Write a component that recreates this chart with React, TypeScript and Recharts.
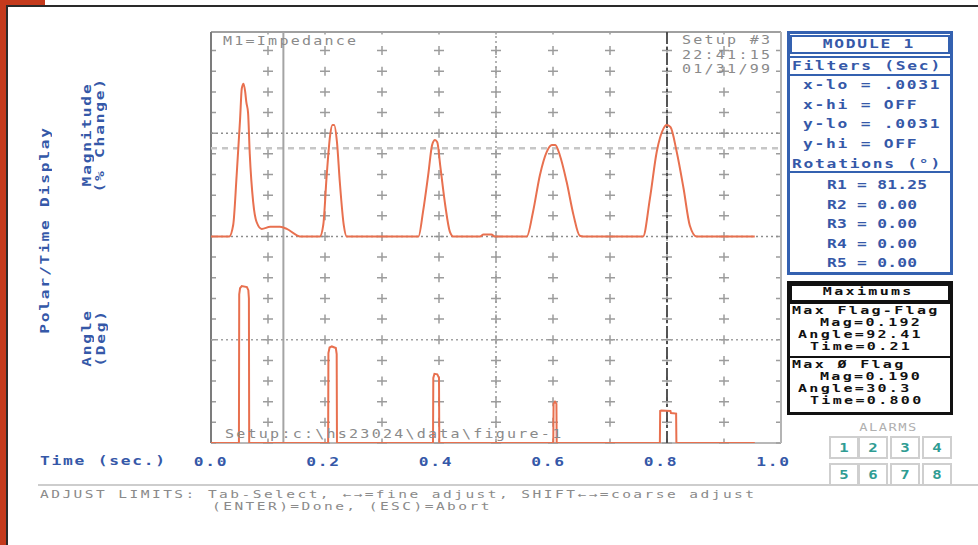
import React from "react";
import { ComposedChart, Line, XAxis, YAxis, CartesianGrid, ReferenceLine } from "recharts";

// ---------- data (time in seconds) ----------
const magTime = [
  0, 0.032, 0.039, 0.045, 0.051, 0.054, 0.057, 0.06, 0.062, 0.065, 0.068, 0.074, 0.08, 0.089, 0.104, 0.121, 0.133, 0.15, 0.156,
  0.191, 0.197, 0.203, 0.209, 0.213, 0.216, 0.221, 0.226, 0.233, 0.238,
  0.364, 0.372, 0.381, 0.388, 0.393, 0.397, 0.402, 0.411, 0.419, 0.425,
  0.472, 0.478, 0.492, 0.498,
  0.554, 0.565, 0.577, 0.589, 0.598, 0.604, 0.612, 0.624, 0.636, 0.647, 0.653,
  0.758, 0.77, 0.782, 0.794, 0.799, 0.806, 0.817, 0.829, 0.84, 0.852, 0.954,
];
const magValue = [
  0.03, 0.03, 0.047, 0.119, 0.2, 0.245, 0.252, 0.24, 0.225, 0.21, 0.15, 0.08, 0.051, 0.041, 0.044, 0.044, 0.041, 0.032, 0.03,
  0.03, 0.047, 0.119, 0.177, 0.192, 0.192, 0.167, 0.109, 0.046, 0.03,
  0.03, 0.066, 0.119, 0.163, 0.17, 0.167, 0.134, 0.075, 0.037, 0.03,
  0.03, 0.033, 0.033, 0.03,
  0.03, 0.066, 0.119, 0.153, 0.163, 0.163, 0.148, 0.109, 0.061, 0.031, 0.03,
  0.03, 0.085, 0.153, 0.187, 0.192, 0.189, 0.153, 0.1, 0.046, 0.03, 0.03,
];
const angleTime = [
  0, 0.049, 0.0495, 0.051, 0.054, 0.063, 0.0655, 0.0665, 0.067,
  0.2055, 0.206, 0.208, 0.212, 0.219, 0.2205, 0.221,
  0.3895, 0.39, 0.392, 0.397, 0.4, 0.4005,
  0.6005, 0.601, 0.6035, 0.606, 0.6065,
  0.7875, 0.788, 0.79, 0.806, 0.807, 0.816, 0.8165,
  0.954,
];
const angleValue = [
  0, 0, 144, 150, 152, 151, 148, 140, 0,
  0, 87, 92.5, 93.5, 92, 86, 0,
  0, 63, 67, 66.5, 63, 0,
  0, 38, 40, 38, 0,
  0, 31, 31.5, 31, 29, 28.5, 0,
  0,
];

// ---------- ticks ----------
const xGridTicks = [0, 0.1, 0.2, 0.3, 0.4, 0.5, 0.6, 0.7, 0.8, 0.9, 1.0];
const xLabelValues = [0, 0.2, 0.4, 0.6, 0.8, 1.0];
const xTickLabels = ["0.0", "0.2", "0.4", "0.6", "0.8", "1.0"];
const magTickValues = [0.06, 0.12, 0.18, 0.24, 0.3];
const magTickLabels = ["0.060", "0.12", "0.18", "0.24", "0.30"];
const angleGridTicks = [0, 20, 40, 60, 80, 100, 120, 140, 160, 180, 200, 220, 240, 260, 280, 300, 320, 340, 360, 380];
const angleLabelValues = [20, 60, 100, 140, 180];
const angleTickLabels = ["20.0", "60.0", "100.0", "140.0", "180.0"];

const magDomain = [-0.27, 0.327];
const angleDomain = [0, 398];

// reference levels
const magDotted = [0.18, 0.03];
const magThreshold = 0.158;
const angleDotted = [100];
const cursorTime = 0.127;
const midTime = 0.5;
const markerTime = 0.8;

// side panel text
const filterRows = ["x-lo = .0031", "x-hi = OFF", "y-lo = .0031", "y-hi = OFF"];
const rotationRows = ["R1 = 81.25", "R2 = 0.00", "R3 = 0.00", "R4 = 0.00", "R5 = 0.00"];
const maxRows = [
  { x: 792, y: 311, s: "Max Flag-Flag" },
  { x: 820, y: 323, s: "Mag=0.192" },
  { x: 798, y: 335, s: "Angle=92.41" },
  { x: 810, y: 347, s: "Time=0.21" },
  { x: 792, y: 365, s: "Max Ø Flag" },
  { x: 820, y: 377, s: "Mag=0.190" },
  { x: 798, y: 389, s: "Angle=30.3" },
  { x: 810, y: 401, s: "Time=0.800" },
];
const alarmLabels = ["1", "2", "3", "4", "5", "6", "7", "8"];

const magData = magTime.map((t, i) => ({ t, v: magValue[i] }));
const angleData = angleTime.map((t, i) => ({ t, v: angleValue[i] }));

const BLUE = "#3558a8";
const GRAY = "#8a8a8a";
const TRACE = "#e8704f";
const MONO = '"DejaVu Sans Mono", "Liberation Mono", monospace';

const findLabel = (vals: number[], labels: string[], v: number) => {
  const i = vals.findIndex((x) => Math.abs(x - v) < 1e-6);
  return i >= 0 ? labels[i] : null;
};

const makeYTick = (vals: number[], labels: string[]) => (props: any) => {
  const { x, y, payload } = props;
  const lab = findLabel(vals, labels, payload.value);
  if (!lab) return <g />;
  return (
    <text
      transform={`translate(${x},${y}) scale(1.25,1)`}
      textAnchor="end"
      dominantBaseline="central"
      fill={BLUE}
      fontFamily={MONO}
      fontWeight={700}
      fontSize={13}
      letterSpacing={1.4}
    >
      {lab}
    </text>
  );
};

const XTick = (props: any) => {
  const { x, y, payload } = props;
  const lab = findLabel(xLabelValues, xTickLabels, payload.value);
  if (!lab) return <g />;
  return (
    <text
      transform={`translate(${x - 7.5 * payload.value},${y + 18}) scale(1.25,1)`}
      textAnchor="middle"
      dominantBaseline="central"
      fill={BLUE}
      fontFamily={MONO}
      fontWeight={700}
      fontSize={13}
      letterSpacing={1.4}
    >
      {lab}
    </text>
  );
};

const vGridLine = (p: any) => {
  const h = p.y2 - p.y1;
  const row = (h * 20) / angleDomain[1];
  const s = (h - 4.5) % row;
  const off = row - s;
  return (
    <line
      key={`v-${p.x1}`}
      x1={p.x1}
      y1={p.y1}
      x2={p.x2}
      y2={p.y2}
      stroke="#9c9c9c"
      strokeWidth={1.5}
      strokeDasharray={`9 ${row - 9}`}
      strokeDashoffset={off}
    />
  );
};

const hGridLine = (p: any) => {
  const col = (p.x2 - p.x1) * 0.1;
  return (
    <line
      key={`h-${p.y1}`}
      x1={p.x1}
      y1={p.y1}
      x2={p.x2}
      y2={p.y2}
      stroke="#9c9c9c"
      strokeWidth={1.5}
      strokeDasharray={`10 ${col - 10}`}
      strokeDashoffset={5}
    />
  );
};

type TxtProps = {
  x: number;
  y: number;
  s: string;
  align?: "left" | "center" | "right";
  color?: string;
  size?: number;
  weight?: number;
  sx?: number;
  ls?: number;
  rot?: boolean;
  lh?: number;
};

function Txt({ x, y, s, align = "left", color = BLUE, size = 13, weight = 700, sx = 1.25, ls = 1.4, rot = false, lh = 16 }: TxtProps) {
  const W = rot ? 300 : Math.ceil(s.length * (size * 0.602 + ls) * sx + 6);
  const left = align === "left" ? x : align === "center" ? x - W / 2 : x - W;
  return (
    <div
      style={{
        position: "absolute",
        left,
        top: y - lh / 2,
        width: W,
        height: lh,
        lineHeight: `${lh}px`,
        textAlign: align,
        transform: rot ? "rotate(-90deg)" : undefined,
        transformOrigin: "center",
        whiteSpace: "pre",
        fontFamily: MONO,
        fontSize: size,
        fontWeight: weight,
        color,
        letterSpacing: ls,
        overflow: "visible",
      }}
    >
      <span
        style={{
          display: "inline-block",
          transform: `scaleX(${sx})`,
          transformOrigin: align === "left" ? "left center" : align === "center" ? "center" : "right center",
        }}
      >
        {s}
      </span>
    </div>
  );
}

const box = (left: number, top: number, width: number, height: number, style: React.CSSProperties) => (
  <div style={{ position: "absolute", left, top, width, height, boxSizing: "border-box", ...style }} />
);

export default function App() {
  return (
    <div style={{ position: "absolute", left: 0, top: 0, width: 978, height: 545, background: "#fff", overflow: "hidden" }}>
      <div style={{ position: "absolute", left: 0, top: 0 }}>
        <ComposedChart width={978} height={545} margin={{ top: 32, right: 197, bottom: 72, left: 211 }}>
          <XAxis
            dataKey="t"
            type="number"
            domain={[0, 1]}
            allowDataOverflow
            ticks={xGridTicks}
            interval={0}
            axisLine={false}
            tickLine={false}
            tickSize={0}
            tickMargin={0}
            height={30}
            tick={XTick}
          />
          <YAxis
            yAxisId="mag"
            type="number"
            domain={magDomain}
            allowDataOverflow
            ticks={magTickValues}
            interval={0}
            width={0}
            axisLine={false}
            tickLine={false}
            tickSize={0}
            tickMargin={8}
            tick={makeYTick(magTickValues, magTickLabels)}
          />
          <YAxis
            yAxisId="ang"
            type="number"
            domain={angleDomain}
            allowDataOverflow
            ticks={angleGridTicks}
            interval={0}
            width={0}
            axisLine={false}
            tickLine={false}
            tickSize={0}
            tickMargin={8}
            tick={makeYTick(angleLabelValues, angleTickLabels)}
          />
          <CartesianGrid yAxisId="ang" horizontal={false} vertical={vGridLine} />
          <CartesianGrid yAxisId="ang" vertical={false} horizontal={hGridLine} />

          {/* plot frame */}
          <ReferenceLine yAxisId="ang" y={angleDomain[1]} stroke="#a0a0a0" strokeWidth={2} />
          <ReferenceLine yAxisId="ang" y={0} stroke="#a0a0a0" strokeWidth={1.5} />
          <ReferenceLine yAxisId="ang" x={0} stroke="#7c7c7c" strokeWidth={2} />
          <ReferenceLine yAxisId="ang" x={1} stroke="#b4b4b4" strokeWidth={2} />

          {magDotted.map((v) => (
            <ReferenceLine key={`md${v}`} yAxisId="mag" y={v} stroke="#8e8e8e" strokeWidth={1.5} strokeDasharray="2 3" />
          ))}
          <ReferenceLine yAxisId="mag" y={magThreshold} stroke="#c6c6c6" strokeWidth={2.5} strokeDasharray="6 5" />
          {angleDotted.map((v) => (
            <ReferenceLine key={`ad${v}`} yAxisId="ang" y={v} stroke="#a2a2a2" strokeWidth={1.5} strokeDasharray="2 3" />
          ))}
          <ReferenceLine yAxisId="ang" x={cursorTime} stroke="#a4a4a4" strokeWidth={2} />
          <ReferenceLine yAxisId="ang" x={midTime} stroke="#9a9a9a" strokeWidth={1.5} strokeDasharray="2 3" />
          <ReferenceLine yAxisId="ang" x={markerTime} stroke="#444" strokeWidth={1.8} strokeDasharray="12 3 3 3" />

          <Line
            yAxisId="mag"
            data={magData}
            dataKey="v"
            type="monotone"
            stroke={TRACE}
            strokeWidth={2}
            dot={false}
            activeDot={false}
            isAnimationActive={false}
          />
          <Line
            yAxisId="ang"
            data={angleData}
            dataKey="v"
            type="linear"
            stroke={TRACE}
            strokeWidth={2}
            dot={false}
            activeDot={false}
            isAnimationActive={false}
          />
        </ComposedChart>
      </div>

      {/* screen frame */}
      {box(0, 0, 6, 545, { background: "#c43a1c" })}
      {box(0, 0, 45, 5, { background: "#c43a1c" })}
      {box(6, 5, 972, 2, { background: "#2a2a2a" })}
      {box(6, 5, 2, 540, { background: "#2a2a2a" })}

      {/* left labels */}
      <Txt x={45} y={230} s="Polar/Time Display" align="center" rot lh={14} />
      <Txt x={87} y={134} s="Magnitude" align="center" rot lh={12} />
      <Txt x={100} y={135} s="(% Change)" align="center" rot lh={12} />
      <Txt x={87} y={338} s="Angle" align="center" rot lh={12} />
      <Txt x={101} y={338} s="(Deg)" align="center" rot lh={12} />
      <Txt x={40} y={461} s="Time (sec.)" />

      {/* in-plot annotations */}
      <Txt x={223} y={41} s="M1=Impedance" color={GRAY} size={12} weight={400} ls={1.8} lh={13} />
      <Txt x={682} y={40} s="Setup #3" color={GRAY} size={12} weight={400} ls={1.8} lh={13} />
      <Txt x={682} y={55} s="22:41:15" color={GRAY} size={12} weight={400} ls={1.8} lh={13} />
      <Txt x={682} y={69} s="01/31/99" color={GRAY} size={12} weight={400} ls={1.8} lh={13} />
      <Txt x={225} y={434} s={"Setup:c:\\hs23024\\data\\figure-1"} color={GRAY} size={12} weight={400} ls={1.8} lh={13} />

      {/* module panel */}
      {box(787, 31, 166, 244, { border: "3px solid #3461b0" })}
      {box(790, 35, 160, 19, { border: "2px solid #3461b0" })}
      {box(787, 56, 166, 2, { background: "#3461b0" })}
      {box(787, 74, 166, 2, { background: "#3461b0" })}
      {box(787, 171, 166, 2, { background: "#3461b0" })}
      <Txt x={869} y={44} s="MODULE 1" align="center" lh={14} />
      <Txt x={792} y={66} s="Filters (Sec)" lh={14} />
      {filterRows.map((r, i) => (
        <Txt key={r + i} x={803} y={85 + i * 19.5} s={r} lh={14} />
      ))}
      <Txt x={792} y={164} s="Rotations (°)" lh={14} />
      {rotationRows.map((r, i) => (
        <Txt key={r + i} x={827} y={185 + i * 19.5} s={r} ls={0.2} lh={14} />
      ))}

      {/* maximums panel */}
      {box(787, 281, 166, 134, { border: "3px solid #111" })}
      {box(790, 284, 160, 18, { border: "2px solid #111" })}
      {box(787, 302, 166, 2, { background: "#111" })}
      {box(787, 356, 166, 2, { background: "#111" })}
      <Txt x={868} y={292} s="Maximums" align="center" color="#111" size={10} sx={1.5} ls={1.55} lh={12} />
      {maxRows.map((r) => (
        <Txt key={r.s + r.y} x={r.x} y={r.y} s={r.s} color="#111" size={10} sx={1.5} ls={1.55} lh={11.5} />
      ))}

      {/* alarms */}
      <Txt x={888} y={428} s="ALARMS" align="center" color="#b0b0b0" size={11} weight={400} sx={1.25} ls={1.2} lh={12} />
      {alarmLabels.map((a, i) => {
        const lefts = [829, 858, 890, 922];
        const left = lefts[i % 4];
        const top = i < 4 ? 436 : 463;
        return (
          <React.Fragment key={a}>
            {box(left, top, 30, 23, { border: "2px solid #cfcfcf" })}
            <Txt x={left + 15} y={top + 11.5} s={a} align="center" color="#2f9c93" size={13} ls={0} sx={1.2} lh={14} />
          </React.Fragment>
        );
      })}

      {/* bottom status */}
      {box(38, 484, 940, 2, { background: "#cdcdcd" })}
      <Txt x={40} y={494} s="ADJUST LIMITS: Tab-Select, ←→=fine adjust, SHIFT←→=coarse adjust" color={GRAY} size={10} weight={400} sx={1.45} ls={1.7} lh={11} />
      <Txt x={212} y={506} s="(ENTER)=Done, (ESC)=Abort" color={GRAY} size={10} weight={400} sx={1.45} ls={1.7} lh={11} />
    </div>
  );
}
